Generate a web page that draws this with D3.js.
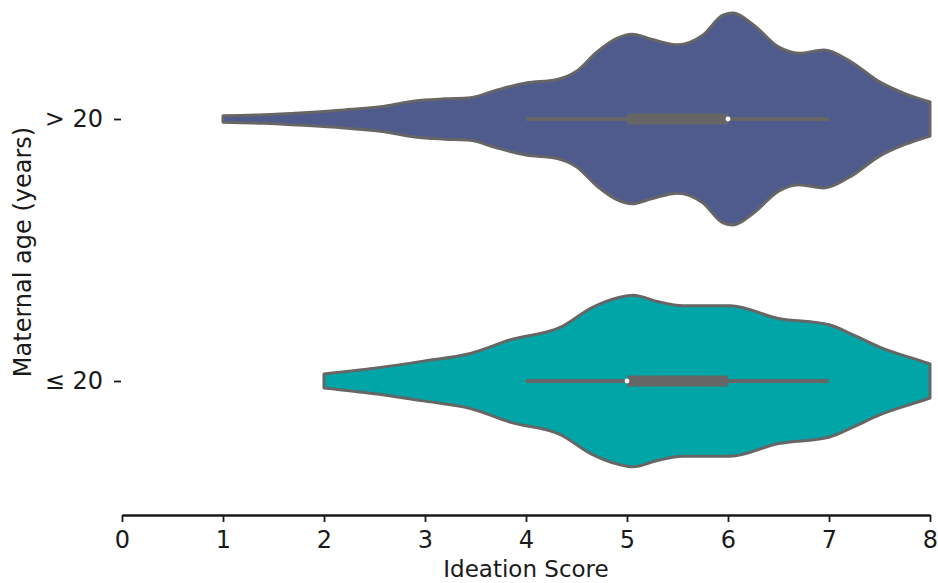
<!DOCTYPE html>
<html>
<head>
<meta charset="utf-8">
<script src="https://cdn.jsdelivr.net/npm/d3@7"></script>
<style>
  body { margin: 0; background: #fff; }
  text { font-family: "DejaVu Sans", sans-serif; fill: #1a1a1a; }
</style>
</head>
<body>
<div id="chart"></div>
<script>
// groups, top to bottom
const groups = ['> 20', '≤ 20'];
const colors = ['#4f5a8d', '#00a5a7'];

// density outline (relative half-width)
const olderScores  = [1.0, 1.4, 1.8, 2.2, 2.6, 2.9, 3.2, 3.45, 3.7, 4.0, 4.3, 4.5, 4.7, 4.9, 5.05, 5.25, 5.5, 5.75, 5.95, 6.05, 6.25, 6.5, 6.7, 6.95, 7.2, 7.5, 7.75, 8.0];
const olderDensity = [0.03, 0.04, 0.06, 0.085, 0.12, 0.17, 0.19, 0.2, 0.27, 0.34, 0.37, 0.45, 0.63, 0.76, 0.8, 0.75, 0.7, 0.79, 0.98, 1.0, 0.89, 0.68, 0.62, 0.65, 0.55, 0.35, 0.24, 0.16];

const youngScores  = [2.0, 2.5, 3.0, 3.45, 3.85, 4.35, 4.65, 4.93, 5.06, 5.3, 5.55, 6.02, 6.5, 7.0, 7.25, 7.5, 7.97, 8.0];
const youngDensity = [0.066, 0.12, 0.19, 0.26, 0.39, 0.51, 0.69, 0.79, 0.81, 0.75, 0.71, 0.71, 0.59, 0.53, 0.43, 0.32, 0.17, 0.16];

// box stats: [whisker low, q1, median, q3, whisker high]
const olderBox = [4, 5, 6, 6, 7];
const youngBox = [4, 5, 5, 6, 7];

const xTicks = [0, 1, 2, 3, 4, 5, 6, 7, 8];

const violins = [
  { group: groups[0], color: colors[0], x: olderScores, d: olderDensity, box: olderBox },
  { group: groups[1], color: colors[1], x: youngScores, d: youngDensity, box: youngBox }
];

const W = 938, H = 583;
const svg = d3.select('#chart').append('svg').attr('width', W).attr('height', H);

const x = d3.scaleLinear().domain([0, 8]).range([122, 930]);
const y = d3.scalePoint().domain(groups).range([119, 381]);
const w = d3.scaleLinear().domain([0, 1]).range([0, 106]);

const outline = '#666666';

violins.forEach(v => {
  const cy = y(v.group);
  const pts = v.x.map((s, i) => [s, v.d[i]]);
  const area = d3.area()
    .x(p => x(p[0]))
    .y0(p => cy - w(p[1]))
    .y1(p => cy + w(p[1]))
    .curve(d3.curveMonotoneX);
  svg.append('path')
    .attr('d', area(pts))
    .attr('fill', v.color)
    .attr('stroke', outline)
    .attr('stroke-width', 3)
    .attr('stroke-linejoin', 'round');

  // inner box
  const [lo, q1, med, q3, hi] = v.box;
  svg.append('line')
    .attr('x1', x(lo)).attr('x2', x(hi))
    .attr('y1', cy).attr('y2', cy)
    .attr('stroke', outline).attr('stroke-width', 3.8);
  svg.append('rect')
    .attr('x', x(q1)).attr('y', cy - 5.5)
    .attr('width', x(q3) - x(q1)).attr('height', 11)
    .attr('fill', outline);
  svg.append('circle')
    .attr('cx', x(med)).attr('cy', cy).attr('r', 2.4)
    .attr('fill', '#fff');
});

// x axis
const xAxis = svg.append('g').attr('transform', 'translate(0,515)')
  .call(d3.axisBottom(x).tickValues(xTicks).tickFormat(d3.format('d'))
    .tickSize(7).tickSizeOuter(0).tickPadding(9));
xAxis.select('.domain').attr('stroke', '#1a1a1a').attr('stroke-width', 2.4);
xAxis.selectAll('.tick line').attr('stroke', '#1a1a1a').attr('stroke-width', 1.8);
xAxis.selectAll('.tick text').attr('font-size', 24).attr('font-family', 'DejaVu Sans').attr('fill', '#1a1a1a');

// y axis (ticks only, no spine)
const yAxis = svg.append('g').attr('transform', 'translate(121,0)')
  .call(d3.axisLeft(y).tickSize(7).tickPadding(11));
yAxis.select('.domain').remove();
yAxis.selectAll('.tick line').attr('stroke', '#1a1a1a').attr('stroke-width', 1.8);
yAxis.selectAll('.tick text').attr('font-size', 24).attr('font-family', 'DejaVu Sans').attr('fill', '#1a1a1a');

// axis labels
svg.append('text')
  .attr('x', (x(0) + x(8)) / 2).attr('y', 577)
  .attr('text-anchor', 'middle').attr('font-size', 23)
  .text('Ideation Score');
svg.append('text')
  .attr('transform', 'rotate(-90)')
  .attr('x', -252).attr('y', 31)
  .attr('text-anchor', 'middle').attr('font-size', 24)
  .text('Maternal age (years)');
</script>
</body>
</html>
